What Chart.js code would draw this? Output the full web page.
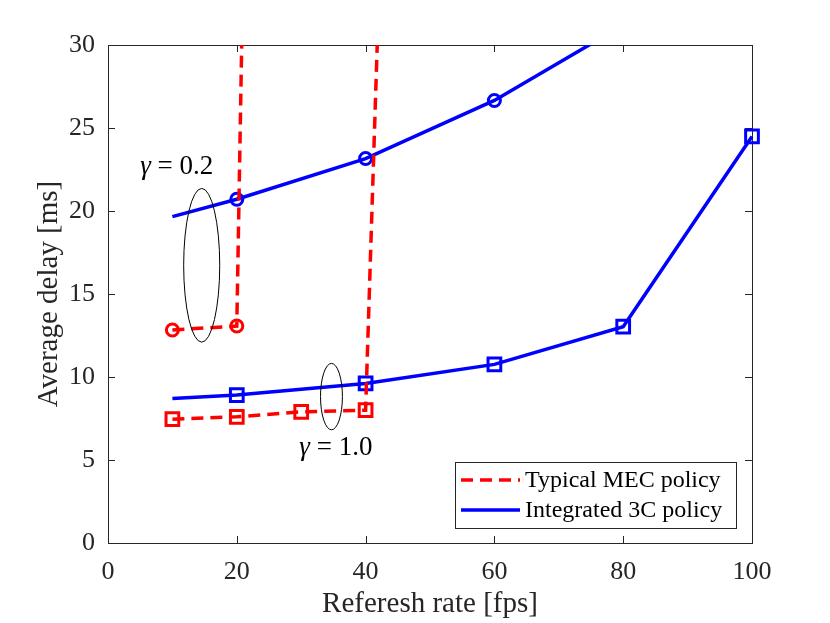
<!DOCTYPE html>
<html>
<head>
<meta charset="utf-8">
<script src="https://cdn.jsdelivr.net/npm/chart.js@4.4.0/dist/chart.umd.min.js"></script>
<style>
  html, body { margin: 0; padding: 0; background: #fff; }
  #wrap { width: 830px; height: 623px; }
</style>
</head>
<body>
<div id="wrap"><canvas id="delayChart"></canvas></div>
<script>
// Données
const mecRatesG02 = [10, 20, 30];
const mecDelayG02 = [12.83, 13.07, 236];
const mecRatesG10 = [10, 20, 30, 40, 50];
const mecDelayG10 = [7.46, 7.6, 7.9, 8.0, 130];
const c3RatesG02 = [10, 20, 40, 60, 80];
const c3DelayG02 = [19.66, 20.71, 23.16, 26.66, 31.2];
const c3RatesG10 = [10, 20, 40, 60, 80, 100];
const c3DelayG10 = [8.71, 8.91, 9.61, 10.76, 13.03, 24.49];

const xTicks = [0, 20, 40, 60, 80, 100];
const yTicks = [0, 5, 10, 15, 20, 25, 30];
const legendLabels = ['Typical MEC policy', 'Integrated 3C policy'];

const RED = '#ff0000';
const BLUE = '#0000ff';
const AXIS = '#262626';
const SERIF = '"Liberation Serif", "Times New Roman", serif';

// on coupe en haut seulement, les marqueurs du bord restent entiers
const CLIP = { left: 12, right: 12, top: 0, bottom: 12 };

function toPoints(xs, ys) {
    return xs.map((x, i) => ({ x: x, y: ys[i] }));
}

function mecDataset(xs, ys, style) {
    return {
        label: legendLabels[0],
        data: toPoints(xs, ys),
        borderColor: RED,
        borderWidth: 3.5,
        borderDash: [12, 7],
        pointStyle: style,
        pointRadius: style === 'rect' ? 9 : 6,
        pointBorderWidth: 3,
        pointBorderColor: RED,
        pointBackgroundColor: 'rgba(0,0,0,0)',
        clip: CLIP,
        tension: 0
    };
}

function c3Dataset(xs, ys, style) {
    return {
        label: legendLabels[1],
        data: toPoints(xs, ys),
        borderColor: BLUE,
        borderWidth: 3.5,
        pointStyle: style,
        // pas de marqueur au premier point
        pointRadius: xs.map((x, i) => i === 0 ? 0 : (style === 'rect' ? 9 : 6)),
        pointBorderWidth: 3,
        pointBorderColor: BLUE,
        pointBackgroundColor: 'rgba(0,0,0,0)',
        clip: CLIP,
        tension: 0
    };
}

// Cadre et graduations vers l'intérieur (style MATLAB)
const boxPlugin = {
    id: 'boxPlugin',
    beforeDatasetsDraw(chart) {
        const { ctx, chartArea: a, scales: { x, y } } = chart;
        const len = 7;
        ctx.save();
        ctx.strokeStyle = AXIS;
        ctx.lineWidth = 1;
        ctx.strokeRect(a.left + 0.5, a.top + 0.5, a.right - a.left, a.bottom - a.top);
        ctx.beginPath();
        xTicks.forEach(v => {
            const px = Math.round(x.getPixelForValue(v)) + 0.5;
            ctx.moveTo(px, a.bottom); ctx.lineTo(px, a.bottom - len);
            ctx.moveTo(px, a.top); ctx.lineTo(px, a.top + len);
        });
        yTicks.forEach(v => {
            const py = Math.round(y.getPixelForValue(v)) + 0.5;
            ctx.moveTo(a.left, py); ctx.lineTo(a.left + len, py);
            ctx.moveTo(a.right, py); ctx.lineTo(a.right - len, py);
        });
        ctx.stroke();
        ctx.restore();
    }
};

// Ellipses et étiquettes gamma
const annotationPlugin = {
    id: 'annotationPlugin',
    afterDatasetsDraw(chart) {
        const { ctx, scales: { x, y } } = chart;
        const ellipse = (cx, cy, rx, ry) => {
            const px = x.getPixelForValue(cx);
            const py = y.getPixelForValue(cy);
            const prx = Math.abs(x.getPixelForValue(cx + rx) - px);
            const pry = Math.abs(y.getPixelForValue(cy + ry) - py);
            ctx.beginPath();
            ctx.ellipse(px, py, prx, pry, 0, 0, Math.PI * 2);
            ctx.stroke();
        };
        const gammaLabel = (vx, vy, value) => {
            let px = x.getPixelForValue(vx);
            const py = y.getPixelForValue(vy);
            ctx.textBaseline = 'alphabetic';
            ctx.textAlign = 'left';
            ctx.font = 'italic 27px ' + SERIF;
            ctx.fillText('γ', px, py);
            px += ctx.measureText('γ').width;
            ctx.font = '27px ' + SERIF;
            ctx.fillText(' = ' + value, px, py);
        };
        ctx.save();
        ctx.strokeStyle = '#000';
        ctx.fillStyle = '#000';
        ctx.lineWidth = 1;
        ellipse(14.55, 16.73, 2.8, 4.63);
        ellipse(34.7, 8.82, 1.7, 2.0);
        gammaLabel(5.0, 22.2, '0.2');
        gammaLabel(29.7, 5.3, '1.0');
        ctx.restore();
    }
};

// Légende encadrée en bas à droite
const legendPlugin = {
    id: 'legendPlugin',
    afterDraw(chart) {
        const { ctx, chartArea: a } = chart;
        const w = 281, h = 66;
        const left = a.right - 16 - w;
        const top = a.bottom - 15 - h;
        ctx.save();
        ctx.fillStyle = '#fff';
        ctx.fillRect(left, top, w, h);
        ctx.strokeStyle = AXIS;
        ctx.lineWidth = 1;
        ctx.strokeRect(left + 0.5, top + 0.5, w, h);
        const rows = [
            { color: RED, dash: [12, 7], y: top + 18 },
            { color: BLUE, dash: [], y: top + 48 }
        ];
        rows.forEach((r, i) => {
            ctx.strokeStyle = r.color;
            ctx.lineWidth = 3.5;
            ctx.setLineDash(r.dash);
            ctx.beginPath();
            ctx.moveTo(left + 6, r.y);
            ctx.lineTo(left + 65, r.y);
            ctx.stroke();
            ctx.setLineDash([]);
            ctx.fillStyle = '#000';
            ctx.font = '24px ' + SERIF;
            ctx.textBaseline = 'middle';
            ctx.textAlign = 'left';
            ctx.fillText(legendLabels[i], left + 70, r.y + 1);
        });
        ctx.restore();
    }
};

new Chart(document.getElementById('delayChart'), {
    type: 'line',
    data: {
        datasets: [
            mecDataset(mecRatesG02, mecDelayG02, 'circle'),
            mecDataset(mecRatesG10, mecDelayG10, 'rect'),
            c3Dataset(c3RatesG02, c3DelayG02, 'circle'),
            c3Dataset(c3RatesG10, c3DelayG10, 'rect')
        ]
    },
    options: {
        responsive: true,
        maintainAspectRatio: false,
        animation: false,
        layout: { padding: { top: 45, right: 78, left: 0, bottom: 0 } },
        plugins: {
            legend: { display: false },
            tooltip: { enabled: false }
        },
        scales: {
            x: {
                type: 'linear',
                min: 0,
                max: 100,
                afterFit: scale => { scale.height = 80; },
                afterBuildTicks: scale => { scale.ticks = xTicks.map(v => ({ value: v })); },
                grid: { display: false, drawTicks: false },
                border: { display: false },
                ticks: {
                    color: AXIS,
                    padding: 14,
                    maxRotation: 0,
                    font: { family: SERIF, size: 26 }
                },
                title: {
                    display: true,
                    text: 'Referesh rate [fps]',
                    color: AXIS,
                    padding: { top: 0, bottom: 1 },
                    font: { family: SERIF, size: 29 }
                }
            },
            y: {
                type: 'linear',
                min: 0,
                max: 30,
                afterFit: scale => { scale.width = 108; },
                afterBuildTicks: scale => { scale.ticks = yTicks.map(v => ({ value: v })); },
                grid: { display: false, drawTicks: false },
                border: { display: false },
                ticks: {
                    color: AXIS,
                    padding: 13,
                    font: { family: SERIF, size: 26 }
                },
                title: {
                    display: true,
                    text: 'Average delay [ms]',
                    color: AXIS,
                    padding: { top: 32, bottom: 0 },
                    font: { family: SERIF, size: 29 }
                }
            }
        }
    },
    plugins: [boxPlugin, annotationPlugin, legendPlugin]
});
</script>
</body>
</html>
